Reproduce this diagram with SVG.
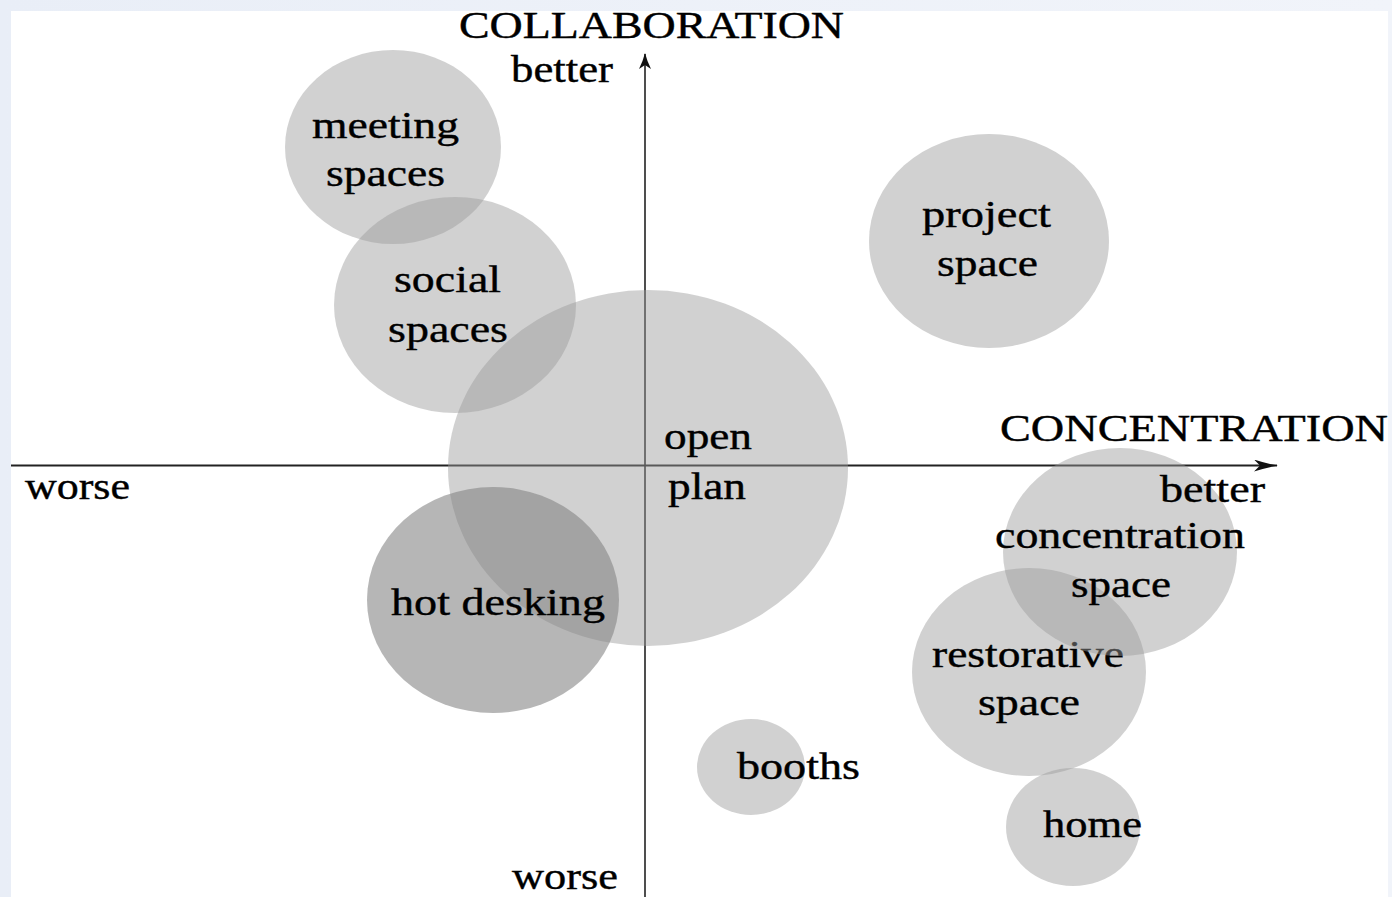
<svg xmlns="http://www.w3.org/2000/svg" width="1392" height="897" viewBox="0 0 1392 897">
<defs>
<linearGradient id="bg" x1="0" y1="0" x2="1" y2="0">
<stop offset="0" stop-color="#e9eef7"/>
<stop offset="1" stop-color="#f1f4fa"/>
</linearGradient>
<marker id="arrH" viewBox="0 0 24 12" refX="23" refY="6" markerWidth="24" markerHeight="12" markerUnits="userSpaceOnUse" orient="auto">
<path d="M0,0 Q12,4 24,6 Q12,8 0,12 L6,6 Z" fill="#111"/>
</marker>
<marker id="arrV" viewBox="0 0 16 12" refX="15" refY="6" markerWidth="16" markerHeight="12" markerUnits="userSpaceOnUse" orient="auto">
<path d="M0,0 Q8,4 16,6 Q8,8 0,12 L4,6 Z" fill="#111"/>
</marker>
</defs>
<style>
.bub{fill:#9a9a9a;fill-opacity:0.457}
.dark{fill:#838383;fill-opacity:0.587}
text{font-family:"Liberation Serif","DejaVu Serif",serif;fill:#000;font-size:38px;stroke:#000;stroke-width:0.4}
.axis{stroke:#222;stroke-width:2;fill:none}
</style>
<rect width="1392" height="897" fill="url(#bg)"/>
<rect x="11" y="11" width="1377" height="886" fill="#fff"/>
<g id="connectors">
<line class="axis" x1="11" y1="465.5" x2="1277" y2="465.5" marker-end="url(#arrH)"/>
<line class="axis" x1="645" y1="897" x2="645" y2="54" marker-end="url(#arrV)" style="stroke-width:1.6"/>
</g>
<g id="open-plan">
<ellipse class="bub" cx="648" cy="468" rx="200" ry="178"/>
<text x="664" y="449" textLength="88" lengthAdjust="spacingAndGlyphs">open</text>
<text x="668" y="499" textLength="78" lengthAdjust="spacingAndGlyphs">plan</text>
</g>
<g id="meeting-spaces">
<ellipse class="bub" cx="393" cy="147" rx="108" ry="97"/>
<text x="312" y="138" textLength="147" lengthAdjust="spacingAndGlyphs">meeting</text>
<text x="326" y="186" textLength="119" lengthAdjust="spacingAndGlyphs">spaces</text>
</g>
<g id="social-spaces">
<ellipse class="bub" cx="455" cy="305" rx="121" ry="108"/>
<text x="394" y="292" textLength="107" lengthAdjust="spacingAndGlyphs">social</text>
<text x="388" y="342" textLength="120" lengthAdjust="spacingAndGlyphs">spaces</text>
</g>
<g id="hot-desking">
<ellipse class="dark" cx="493" cy="600" rx="126" ry="113"/>
<text x="391" y="615" textLength="214" lengthAdjust="spacingAndGlyphs">hot desking</text>
</g>
<g id="project-space">
<ellipse class="bub" cx="989" cy="241" rx="120" ry="107"/>
<text x="922" y="227" textLength="129" lengthAdjust="spacingAndGlyphs">project</text>
<text x="937" y="276" textLength="101" lengthAdjust="spacingAndGlyphs">space</text>
</g>
<g id="restorative-space">
<ellipse class="bub" cx="1029" cy="672" rx="117" ry="104"/>
<text x="932" y="667" textLength="192" lengthAdjust="spacingAndGlyphs">restorative</text>
<text x="978" y="715" textLength="102" lengthAdjust="spacingAndGlyphs">space</text>
</g>
<g id="concentration-space">
<ellipse class="bub" cx="1120" cy="552" rx="117" ry="104"/>
<text x="995" y="548" textLength="250" lengthAdjust="spacingAndGlyphs">concentration</text>
<text x="1071" y="597" textLength="100" lengthAdjust="spacingAndGlyphs">space</text>
</g>
<g id="booths">
<ellipse class="bub" cx="751" cy="767" rx="54" ry="48"/>
<text x="737" y="779" textLength="123" lengthAdjust="spacingAndGlyphs">booths</text>
</g>
<g id="home">
<ellipse class="bub" cx="1073" cy="827" rx="67" ry="59"/>
<text x="1043" y="837" textLength="99" lengthAdjust="spacingAndGlyphs">home</text>
</g>
<g id="axis-labels">
<text x="459" y="38" textLength="385" lengthAdjust="spacingAndGlyphs">COLLABORATION</text>
<text x="511" y="82" textLength="102" lengthAdjust="spacingAndGlyphs">better</text>
<text x="512" y="889" textLength="106" lengthAdjust="spacingAndGlyphs">worse</text>
<text x="25" y="499" textLength="105" lengthAdjust="spacingAndGlyphs">worse</text>
<text x="1000" y="441" textLength="388" lengthAdjust="spacingAndGlyphs">CONCENTRATION</text>
<text x="1160" y="502" textLength="105" lengthAdjust="spacingAndGlyphs">better</text>
</g>
</svg>
